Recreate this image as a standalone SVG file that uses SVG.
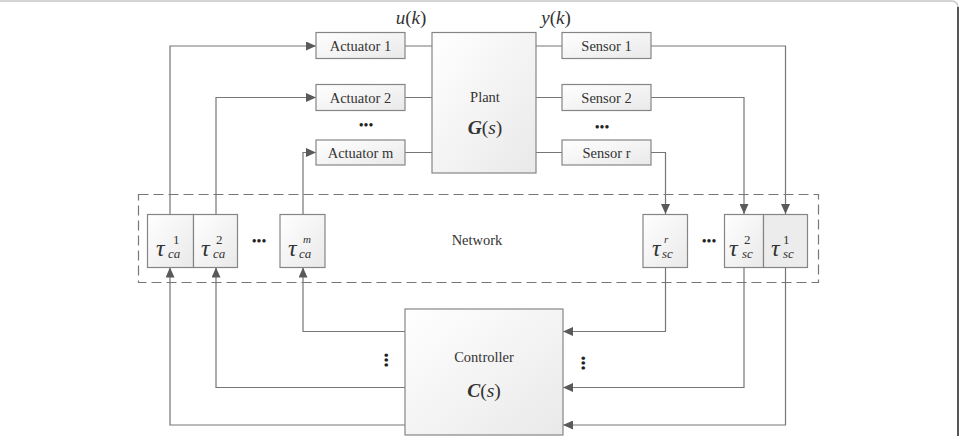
<svg xmlns="http://www.w3.org/2000/svg" width="963" height="436" viewBox="0 0 963 436" font-family="Liberation Serif, serif">
<defs>
<linearGradient id="bg" x1="0" y1="0" x2="1" y2="1">
<stop offset="0" stop-color="#ffffff"/>
<stop offset="1" stop-color="#e9e9e9"/>
</linearGradient>
<marker id="ar" markerUnits="userSpaceOnUse" markerWidth="11" markerHeight="9" refX="10" refY="4.5" orient="auto">
<path d="M0,0 L10,4.5 L0,9 Z" fill="#5a5a5a"/>
</marker>
</defs>
<style>
.box{fill:url(#bg);stroke:#858585;stroke-width:1.2}
.ln{fill:none;stroke:#767676;stroke-width:1.2}
.lbl{font-size:14.5px;fill:#333;text-anchor:middle}
.it{font-style:italic;fill:#333}
.up{font-style:normal;fill:#333;font-size:13px}
.tau{font-size:24px}
.sm{font-size:13px}
.dots{font-size:14px;fill:#222;text-anchor:middle}
</style>
<rect width="963" height="436" fill="#fff"/>
<path d="M0,1 H952 A6,6 0 0 1 958,7" fill="none" stroke="#c8c8c8" stroke-width="1.5"/>
<path d="M958,7 V436" fill="none" stroke="#444" stroke-width="1.8"/>

<rect id="network" x="138.5" y="194.5" width="680" height="88" fill="none" stroke="#777" stroke-width="1.2" stroke-dasharray="10 5"/>
<text class="lbl" x="477" y="245">Network</text>

<g id="connectors">
<path class="ln" d="M170,214 V46 H316" marker-end="url(#ar)"/>
<path class="ln" d="M216,214 V97.5 H316" marker-end="url(#ar)"/>
<path class="ln" d="M303,214 V152.5 H316" marker-end="url(#ar)"/>
<path class="ln" d="M405,46 H432 M405,97.5 H432 M405,152.5 H432"/>
<path class="ln" d="M536,46 H562 M536,97.5 H562 M536,152.5 H562"/>
<path class="ln" d="M651,46 H785.5 V214" marker-end="url(#ar)"/>
<path class="ln" d="M651,97.5 H744 V214" marker-end="url(#ar)"/>
<path class="ln" d="M651,152.5 H665.5 V214" marker-end="url(#ar)"/>
<path class="ln" d="M405,331.5 H303 V267.5" marker-end="url(#ar)"/>
<path class="ln" d="M405,387.5 H216 V267.5" marker-end="url(#ar)"/>
<path class="ln" d="M405,425 H170 V267.5" marker-end="url(#ar)"/>
<path class="ln" d="M665.5,267.5 V331.5 H563" marker-end="url(#ar)"/>
<path class="ln" d="M744,267.5 V387.5 H563" marker-end="url(#ar)"/>
<path class="ln" d="M785.5,267.5 V425 H563" marker-end="url(#ar)"/>
</g>

<g id="actuator1"><rect class="box" x="316" y="32.5" width="89" height="26"/><text class="lbl" x="360.5" y="50.5">Actuator 1</text></g>
<g id="actuator2"><rect class="box" x="316" y="84.5" width="89" height="26"/><text class="lbl" x="360.5" y="102.5">Actuator 2</text></g>
<g id="actuatorm"><rect class="box" x="316" y="140" width="89" height="25"/><text class="lbl" x="360.5" y="157.5">Actuator m</text></g>
<text class="dots" x="366" y="130">•••</text>

<g id="plant"><rect class="box" x="432" y="32.5" width="104" height="140.5"/>
<text class="lbl" x="485" y="102">Plant</text>
<text x="485" y="134" text-anchor="middle" font-size="19.5" fill="#333"><tspan font-weight="bold" font-style="italic">G</tspan><tspan>(</tspan><tspan font-style="italic">s</tspan><tspan>)</tspan></text>
</g>

<g id="sensor1"><rect class="box" x="562" y="32.5" width="89" height="26"/><text class="lbl" x="606.5" y="50.5">Sensor 1</text></g>
<g id="sensor2"><rect class="box" x="562" y="84.5" width="89" height="26"/><text class="lbl" x="606.5" y="102.5">Sensor 2</text></g>
<g id="sensorr"><rect class="box" x="562" y="140" width="89" height="25"/><text class="lbl" x="606.5" y="157.5">Sensor r</text></g>
<text class="dots" x="602" y="132">•••</text>

<text x="411" y="24" text-anchor="middle" font-size="19" fill="#333"><tspan font-style="italic">u</tspan>(<tspan font-style="italic">k</tspan>)</text>
<text x="556" y="24" text-anchor="middle" font-size="19" fill="#333"><tspan font-style="italic">y</tspan>(<tspan font-style="italic">k</tspan>)</text>

<g id="tau_ca1"><rect class="box" x="147.5" y="214.5" width="46" height="53"/>
<text class="it tau" x="156" y="256">τ</text><text class="up" x="173" y="244">1</text><text class="it sm" x="168" y="258">ca</text></g>
<g id="tau_ca2"><rect class="box" x="193.5" y="214.5" width="44" height="53"/>
<text class="it tau" x="201" y="256">τ</text><text class="up" x="216" y="244">2</text><text class="it sm" x="213" y="258">ca</text></g>
<text class="dots" x="259" y="246">•••</text>
<g id="tau_cam"><rect class="box" x="280" y="214.5" width="45" height="53"/>
<text class="it tau" x="288" y="256">τ</text><text class="it" x="303" y="243" font-size="11">m</text><text class="it sm" x="299" y="258">ca</text></g>

<g id="tau_scr"><rect class="box" x="643" y="214.5" width="44.5" height="53"/>
<text class="it tau" x="652" y="256">τ</text><text class="it" x="664" y="243" font-size="11">r</text><text class="it sm" x="662" y="258">sc</text></g>
<text class="dots" x="709" y="246">•••</text>
<g id="tau_sc2"><rect class="box" x="724.5" y="214.5" width="39" height="53"/>
<text class="it tau" x="729" y="256">τ</text><text class="up" x="744" y="244">2</text><text class="it sm" x="742" y="258">sc</text></g>
<g id="tau_sc1"><rect class="box" x="763.5" y="214.5" width="44" height="53" style="fill:#ececec"/>
<text class="it tau" x="771" y="256">τ</text><text class="up" x="783" y="244">1</text><text class="it sm" x="783" y="258">sc</text></g>

<g id="controller"><rect class="box" x="405" y="309" width="158" height="126"/>
<text class="lbl" x="484" y="362">Controller</text>
<text x="484" y="397" text-anchor="middle" font-size="19.5" fill="#333"><tspan font-weight="bold" font-style="italic">C</tspan><tspan>(</tspan><tspan font-style="italic">s</tspan><tspan>)</tspan></text>
</g>
<text class="dots" transform="translate(380.5,360) rotate(90)" x="0" y="0">•••</text>
<text class="dots" transform="translate(578,363) rotate(90)" x="0" y="0">•••</text>
</svg>
